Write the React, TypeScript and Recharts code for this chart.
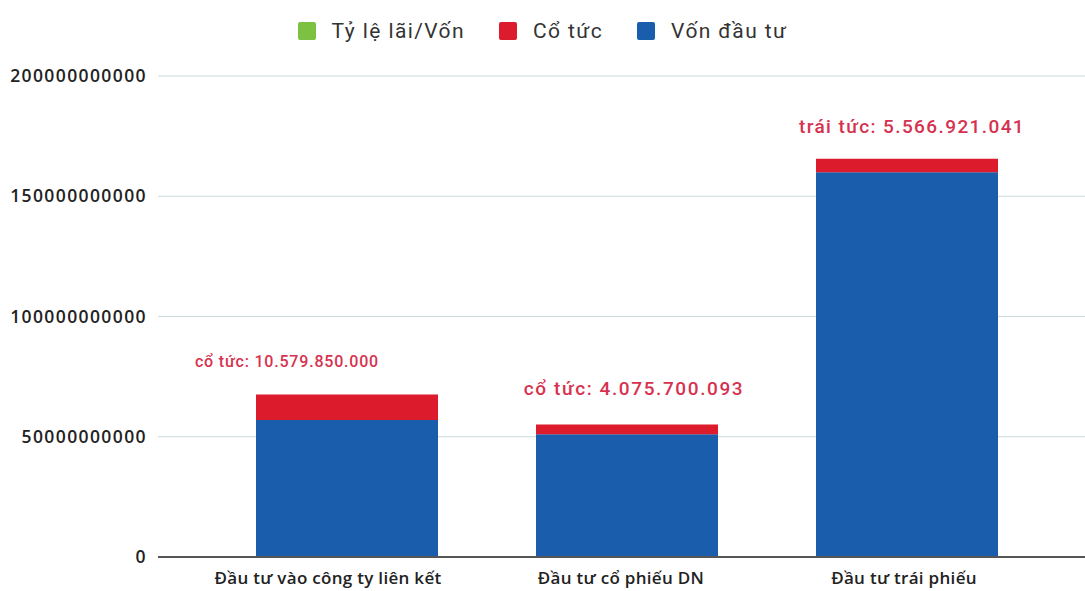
import React from 'react';
import { BarChart, Bar, XAxis, YAxis, CartesianGrid, Legend, LabelList } from 'recharts';

// du lieu doc tu hinh
const categories = ['Đầu tư vào công ty liên kết', 'Đầu tư cổ phiếu DN', 'Đầu tư trái phiếu'];
const vonDauTu = [57000000000, 51000000000, 160000000000];
const coTuc = [10579850000, 4075700093, 5566921041];
const ghiChu = ['cổ tức: 10.579.850.000', 'cổ tức: 4.075.700.093', 'trái tức: 5.566.921.041'];
const seriesNames = ['Tỷ lệ lãi/Vốn', 'Cổ tức', 'Vốn đầu tư'];
const yTicks = [0, 50000000000, 100000000000, 150000000000, 200000000000];

const COLORS: Record<string, string> = {
    'Tỷ lệ lãi/Vốn': '#7dc143',
    'Cổ tức': '#dc1b2c',
    'Vốn đầu tư': '#1b5dad',
};

const chartData = categories.map((name, i) => ({
    name,
    von: vonDauTu[i],
    coTuc: coTuc[i],
    ghiChu: ghiChu[i],
}));

// chu thich do tren moi cot, lech nhu trong hinh
const labelNudge = [
    { dx: -60, dy: -33, size: 16, spacing: 0.8 },
    { dx: 7, dy: -36, size: 19, spacing: 1.6 },
    { dx: 5, dy: -32, size: 19, spacing: 1.4 },
];

// nhan truc x hoi lech trai
const tickNudge = [-19, -6, -3];

const renderGhiChu = (props: any) => {
    const { x, y, width, value } = props;
    const i = ghiChu.indexOf(value);
    const n = labelNudge[i] || labelNudge[1];
    return (
        <text
            x={Number(x) + Number(width) / 2 + n.dx}
            y={Number(y) + n.dy}
            textAnchor="middle"
            dominantBaseline="central"
            fill="#d63250"
            fontFamily="Roboto"
            fontSize={n.size}
            fontWeight={500}
            letterSpacing={n.spacing}
        >
            {value}
        </text>
    );
};

const CategoryTick = (props: any) => {
    const { x, y, payload } = props;
    const i = categories.indexOf(payload.value);
    return (
        <text
            x={Number(x) + (tickNudge[i] || 0)}
            y={Number(y) + 18}
            textAnchor="middle"
            dominantBaseline="central"
            fill="#222"
            fontFamily="Open Sans"
            fontWeight={600}
            fontSize={17}
            letterSpacing={0.3}
        >
            {payload.value}
        </text>
    );
};

const renderLegend = () => (
    <div
        style={{
            height: 76,
            boxSizing: 'border-box',
            paddingTop: 20,
            display: 'flex',
            justifyContent: 'center',
            fontFamily: 'Roboto',
            fontSize: 21,
            letterSpacing: 1.4,
            color: '#333',
        }}
    >
        {seriesNames.map((name) => (
            <div key={name} style={{ display: 'flex', alignItems: 'center', height: 22, margin: '0 17px' }}>
                <span style={{ width: 18, height: 18, background: COLORS[name], borderRadius: 2, marginRight: 16 }} />
                <span>{name}</span>
            </div>
        ))}
    </div>
);

export default function App() {
    return (
        <div style={{ position: 'absolute', left: 0, top: 0, background: '#fff' }}>
            <BarChart
                width={1085}
                height={591}
                data={chartData}
                margin={{ top: 0, right: 0, bottom: 0, left: 0 }}
            >
                <CartesianGrid vertical={false} stroke="#cfd9de" />
                <XAxis
                    dataKey="name"
                    height={34}
                    padding={{ left: 49, right: 38 }}
                    tickLine={false}
                    tickSize={0}
                    axisLine={{ stroke: '#555', strokeWidth: 2 }}
                    tick={<CategoryTick />}
                />
                <YAxis
                    width={158}
                    domain={[0, 200000000000]}
                    ticks={yTicks}
                    axisLine={false}
                    tickLine={false}
                    tickSize={0}
                    tickMargin={11}
                    tickFormatter={(v: number) => String(v)}
                    tick={{ fill: '#222', fontSize: 17.5, fontFamily: 'Open Sans', fontWeight: 600, letterSpacing: 1.4 }}
                />
                <Legend verticalAlign="top" content={renderLegend} />
                <Bar dataKey="von" name="Vốn đầu tư" stackId="a" fill={COLORS['Vốn đầu tư']} barSize={182} isAnimationActive={false} />
                <Bar dataKey="coTuc" name="Cổ tức" stackId="a" fill={COLORS['Cổ tức']} barSize={182} isAnimationActive={false}>
                    <LabelList dataKey="ghiChu" content={renderGhiChu} />
                </Bar>
            </BarChart>
        </div>
    );
}
